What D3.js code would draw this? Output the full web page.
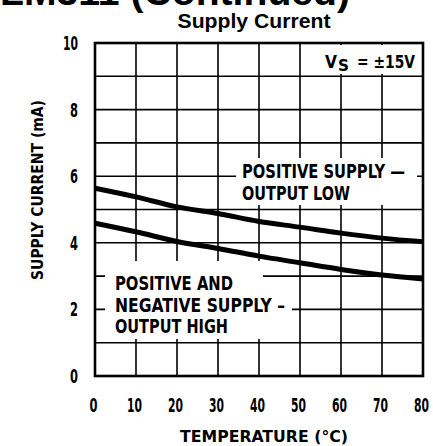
<!DOCTYPE html>
<html>
<head>
<meta charset="utf-8">
<script src="https://cdn.jsdelivr.net/npm/d3@7"></script>
<style>
  body { margin: 0; background: #fff; }
  svg { display: block; }
  text { fill: #000; }
</style>
</head>
<body>
<script>
/**
 * DATA
 */
const temps = [0, 10, 20, 30, 40, 50, 60, 70, 80]; // °C
const posSupplyOutLow = [5.64, 5.38, 5.08, 4.88, 4.64, 4.47, 4.29, 4.14, 4.03]; // mA
const bothSupplyOutHigh = [4.59, 4.33, 4.04, 3.83, 3.6, 3.4, 3.2, 3.03, 2.91]; // mA
const xTicks = [0, 10, 20, 30, 40, 50, 60, 70, 80];
const yTicks = [0, 2, 4, 6, 8, 10];
const xGrid = [10, 20, 30, 40, 50, 60, 70];
const yGrid = [1, 2, 3, 4, 5, 6, 7, 8, 9];

/**
 * CONSTANTS
 */
const W = 433, H = 446;
const PLOT = { left: 95, right: 423, top: 43, bottom: 376 };
const NARROW = "'Liberation Sans Narrow', 'DejaVu Sans Condensed', 'Arial Narrow', sans-serif";
const SANS = "'Liberation Sans', Arial, Helvetica, sans-serif";

const svg = d3.select("body").append("svg")
  .attr("width", W)
  .attr("height", H);

svg.append("rect").attr("width", W).attr("height", H).attr("fill", "#fff");

const x = d3.scaleLinear().domain([0, 80]).range([PLOT.left, PLOT.right]);
const y = d3.scaleLinear().domain([0, 10]).range([PLOT.bottom, PLOT.top]);

// small helper: text squeezed to a known width
const label = (g, str, px, py, size, width, opts = {}) =>
  g.append("text")
    .attr("x", px)
    .attr("y", py)
    .attr("font-family", opts.family || NARROW)
    .attr("font-weight", "bold")
    .attr("font-size", size)
    .attr("text-anchor", opts.anchor || "start")
    .attr("textLength", width)
    .attr("lengthAdjust", "spacingAndGlyphs")
    .attr("transform", opts.transform || null)
    .text(str);

/**
 * HEADINGS
 */
// page heading, only its lower edge shows at the top of the crop
label(svg, "LM311 (Continued)", 0, 5, 39, 350, { family: SANS });
label(svg, "Supply Current", 254, 28, 20.5, 153, { family: SANS, anchor: "middle" });

/**
 * GRID
 */
const grid = svg.append("g")
  .attr("stroke", "#000")
  .attr("stroke-width", 1.6);

grid.selectAll("line.v")
  .data(xGrid)
  .join("line")
  .attr("class", "v")
  .attr("x1", (d) => x(d)).attr("x2", (d) => x(d))
  .attr("y1", PLOT.top).attr("y2", PLOT.bottom);

grid.selectAll("line.h")
  .data(yGrid)
  .join("line")
  .attr("class", "h")
  .attr("x1", PLOT.left).attr("x2", PLOT.right)
  .attr("y1", (d) => y(d)).attr("y2", (d) => y(d));

// The datasheet breaks the grid where the notes sit
const blanks = [
  { x0: 306, x1: 420, y0: 45, y1: 74 },   // Vs note
  { x0: 236, x1: 417, y0: 158, y1: 205 }, // output low note
  { x0: 105, x1: 263, y0: 261, y1: 339 }, // output high note
  { x0: 263, x1: 292, y0: 293, y1: 318 }, // tail of "SUPPLY –"
];
svg.append("g").selectAll("rect")
  .data(blanks)
  .join("rect")
  .attr("x", (d) => d.x0)
  .attr("y", (d) => d.y0)
  .attr("width", (d) => d.x1 - d.x0)
  .attr("height", (d) => d.y1 - d.y0)
  .attr("fill", "#fff");

// frame
svg.append("rect")
  .attr("x", PLOT.left)
  .attr("y", PLOT.top)
  .attr("width", PLOT.right - PLOT.left)
  .attr("height", PLOT.bottom - PLOT.top)
  .attr("fill", "none")
  .attr("stroke", "#000")
  .attr("stroke-width", 2.6);

/**
 * CURVES
 */
const line = d3.line()
  .x((d) => x(d[0]))
  .y((d) => y(d[1]))
  .curve(d3.curveMonotoneX);

[posSupplyOutLow, bothSupplyOutHigh].forEach((series) => {
  svg.append("path")
    .datum(temps.map((t, i) => [t, series[i]]))
    .attr("d", line)
    .attr("fill", "none")
    .attr("stroke", "#000")
    .attr("stroke-width", 5);
});

/**
 * AXES (tick labels only, the grid is the axis)
 */
const ticks = svg.append("g");
yTicks.forEach((d) => {
  label(ticks, String(d), 78, y(d) + 7, 19, d >= 10 ? 15 : 8, { anchor: "end" });
});
xTicks.forEach((d) => {
  label(ticks, String(d), x(d) - 1.5, 412, 19, d >= 10 ? 15 : 8, { anchor: "middle" });
});

label(svg, "TEMPERATURE (°C)", 264, 442, 16.5, 168, { anchor: "middle" });
label(svg, "SUPPLY CURRENT (mA)", 0, 0, 15.5, 180, {
  anchor: "middle",
  transform: "translate(43,190) rotate(-90)",
});

/**
 * NOTES
 */
const notes = svg.append("g");
label(notes, "V", 325, 68, 18, 12);
label(notes, "S", 338, 70.5, 16, 11);
label(notes, "= ±15V", 357, 68, 18, 58);

label(notes, "POSITIVE SUPPLY —", 242, 178, 20, 163);
label(notes, "OUTPUT LOW", 242, 200, 20, 108);

label(notes, "POSITIVE AND", 115, 290, 20, 118);
label(notes, "NEGATIVE SUPPLY –", 115, 312, 20, 170);
label(notes, "OUTPUT HIGH", 115, 333, 20, 113);
</script>
</body>
</html>
